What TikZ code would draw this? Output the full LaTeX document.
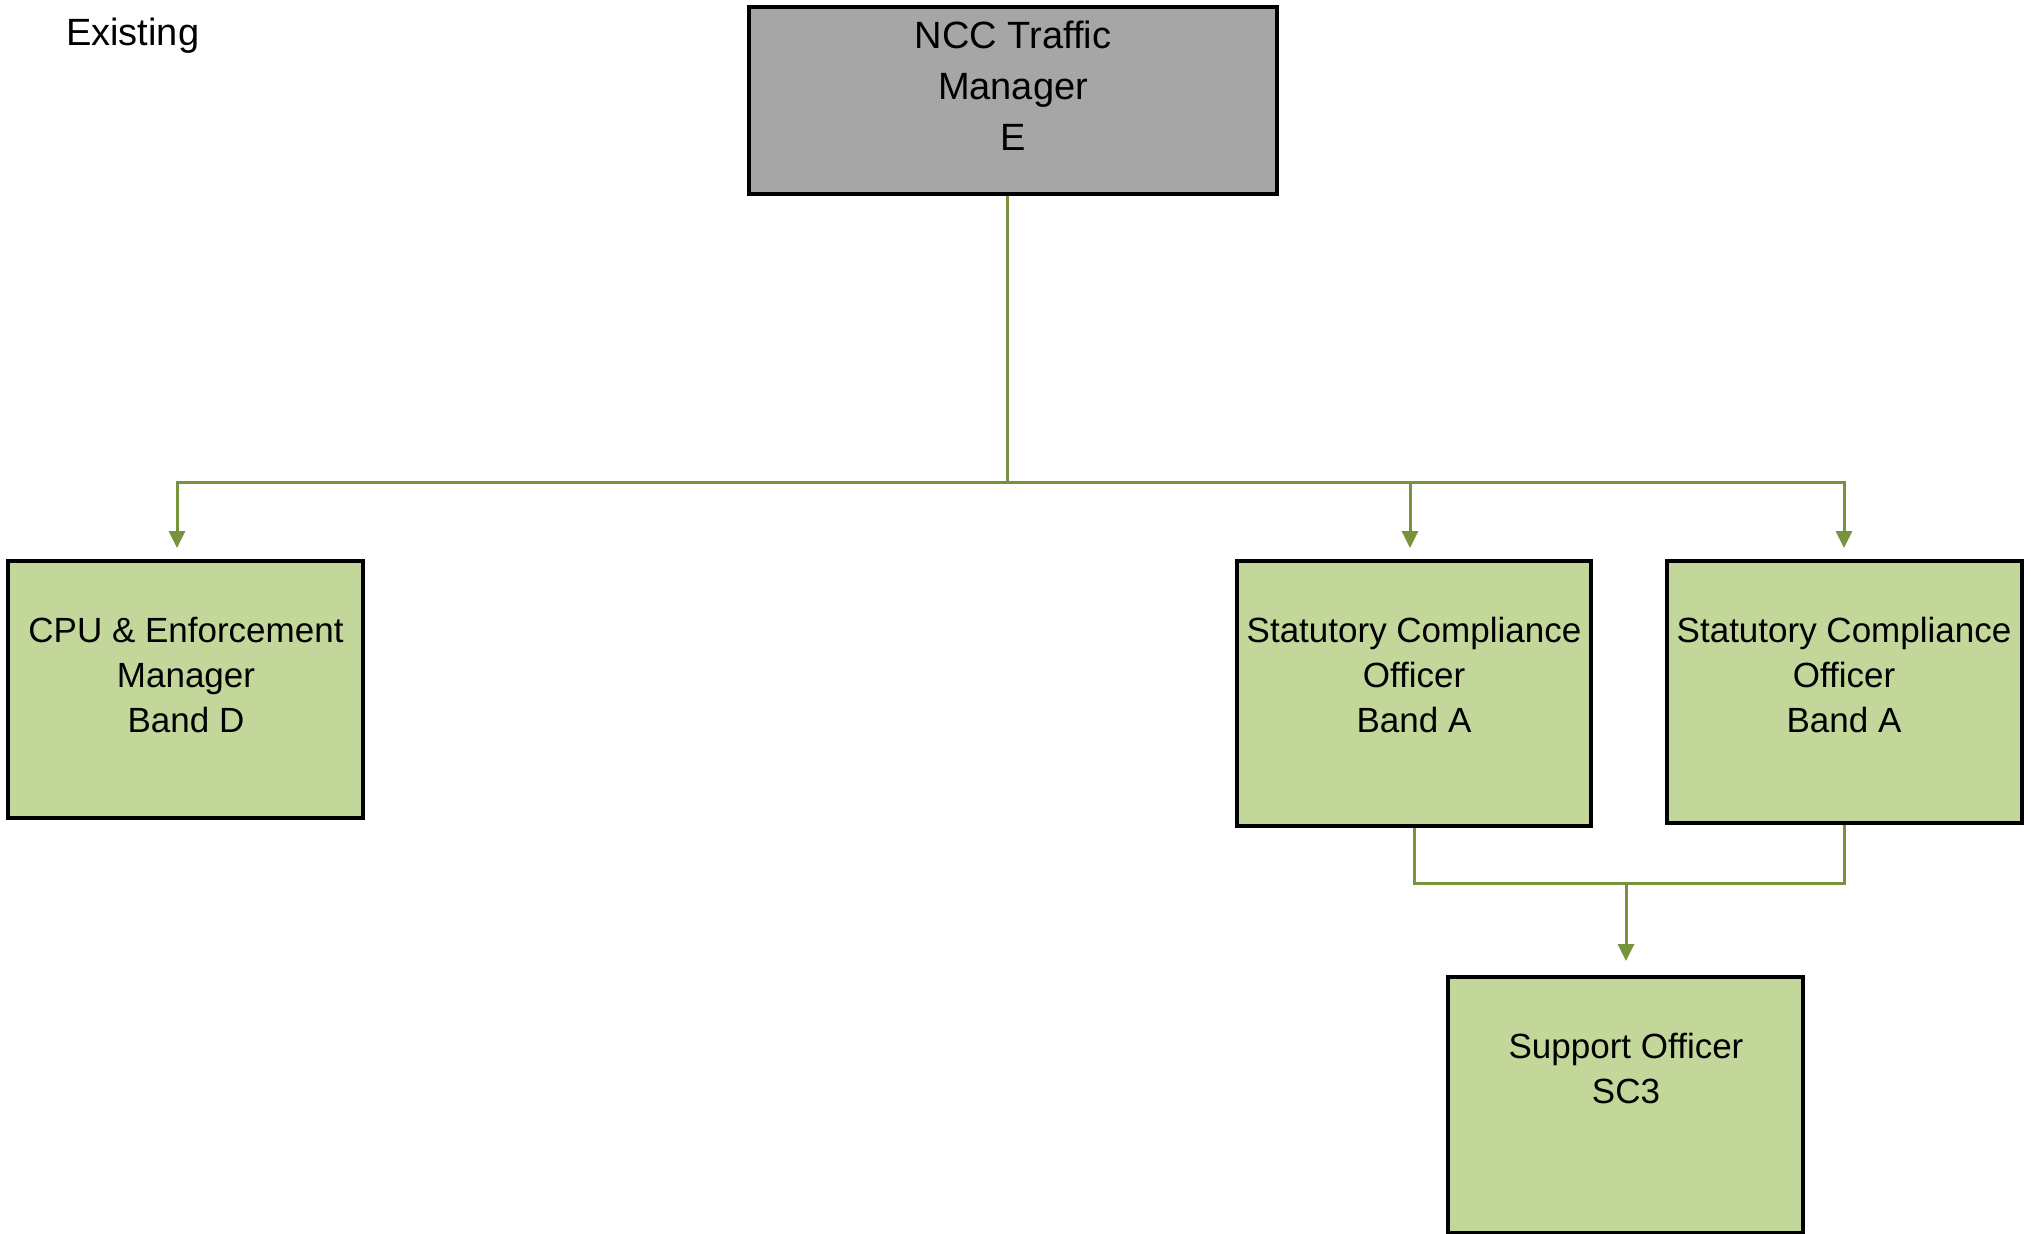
\documentclass[tikz,border=0pt]{standalone}
\usepackage{fontspec}
\setmainfont{Liberation Sans}
\usetikzlibrary{arrows.meta}
\definecolor{boxgray}{HTML}{A6A6A6}
\definecolor{boxgreen}{HTML}{C4D79B}
\definecolor{linegreen}{HTML}{77933C}
\begin{document}
\begin{tikzpicture}[x=1pt,y=-1pt,
  box/.style={draw=black,line width=3.5pt,inner sep=0pt,fill=boxgreen},
  txt/.style={anchor=base,align=center,inner sep=0pt,font=\fontsize{35}{45}\selectfont},
  bigtxt/.style={txt,font=\fontsize{38}{51}\selectfont},
  conn/.style={draw=linegreen,line width=3pt},
  arr/.style={conn,-{Triangle[length=17pt,width=16pt]}}]
\useasboundingbox (0,0) rectangle (2030,1234);
% boxes
\node[box,fill=boxgray,minimum width=528pt,minimum height=187pt] (top) at (1013,100.5) {};
\node[box,minimum width=355pt,minimum height=257pt] (left) at (185.5,689.5) {};
\node[box,minimum width=354pt,minimum height=265pt] (mid) at (1414,693.5) {};
\node[box,minimum width=355pt,minimum height=262pt] (right) at (1844.5,692) {};
\node[box,minimum width=355pt,minimum height=256pt] (bot) at (1625.5,1105) {};
% texts (base anchor = baseline of last line)
\node[bigtxt,anchor=base west] (existing) at (66,45) {Existing};
\node[bigtxt] (ttop) at (1013,150) {NCC Traffic\\Manager\\E};
\node[txt] (tleft) at (186,732) {CPU \& Enforcement\\Manager\\Band D};
\node[txt] (tmid) at (1414,732) {Statutory Compliance\\Officer\\Band A};
\node[txt] (tright) at (1844,732) {Statutory Compliance\\Officer\\Band A};
\node[txt] (tbot) at (1626,1103) {Support Officer\\SC3};
% connectors
\coordinate (j) at (1007,482);
\coordinate (aL) at (177,548);
\coordinate (aM) at (1410,548);
\coordinate (aR) at (1844,548);
\coordinate (k) at (1626,883);
\coordinate (aB) at (1626,961);
\draw[conn] (top.south -| j) -- (j);
\draw[arr] (j) -| (aL);
\draw[arr] (j) -| (aM);
\draw[arr] (j) -| (aR);
\draw[conn] (mid.south) |- (k) -| (right.south);
\draw[arr] (k) -- (aB);
\end{tikzpicture}
\end{document}
